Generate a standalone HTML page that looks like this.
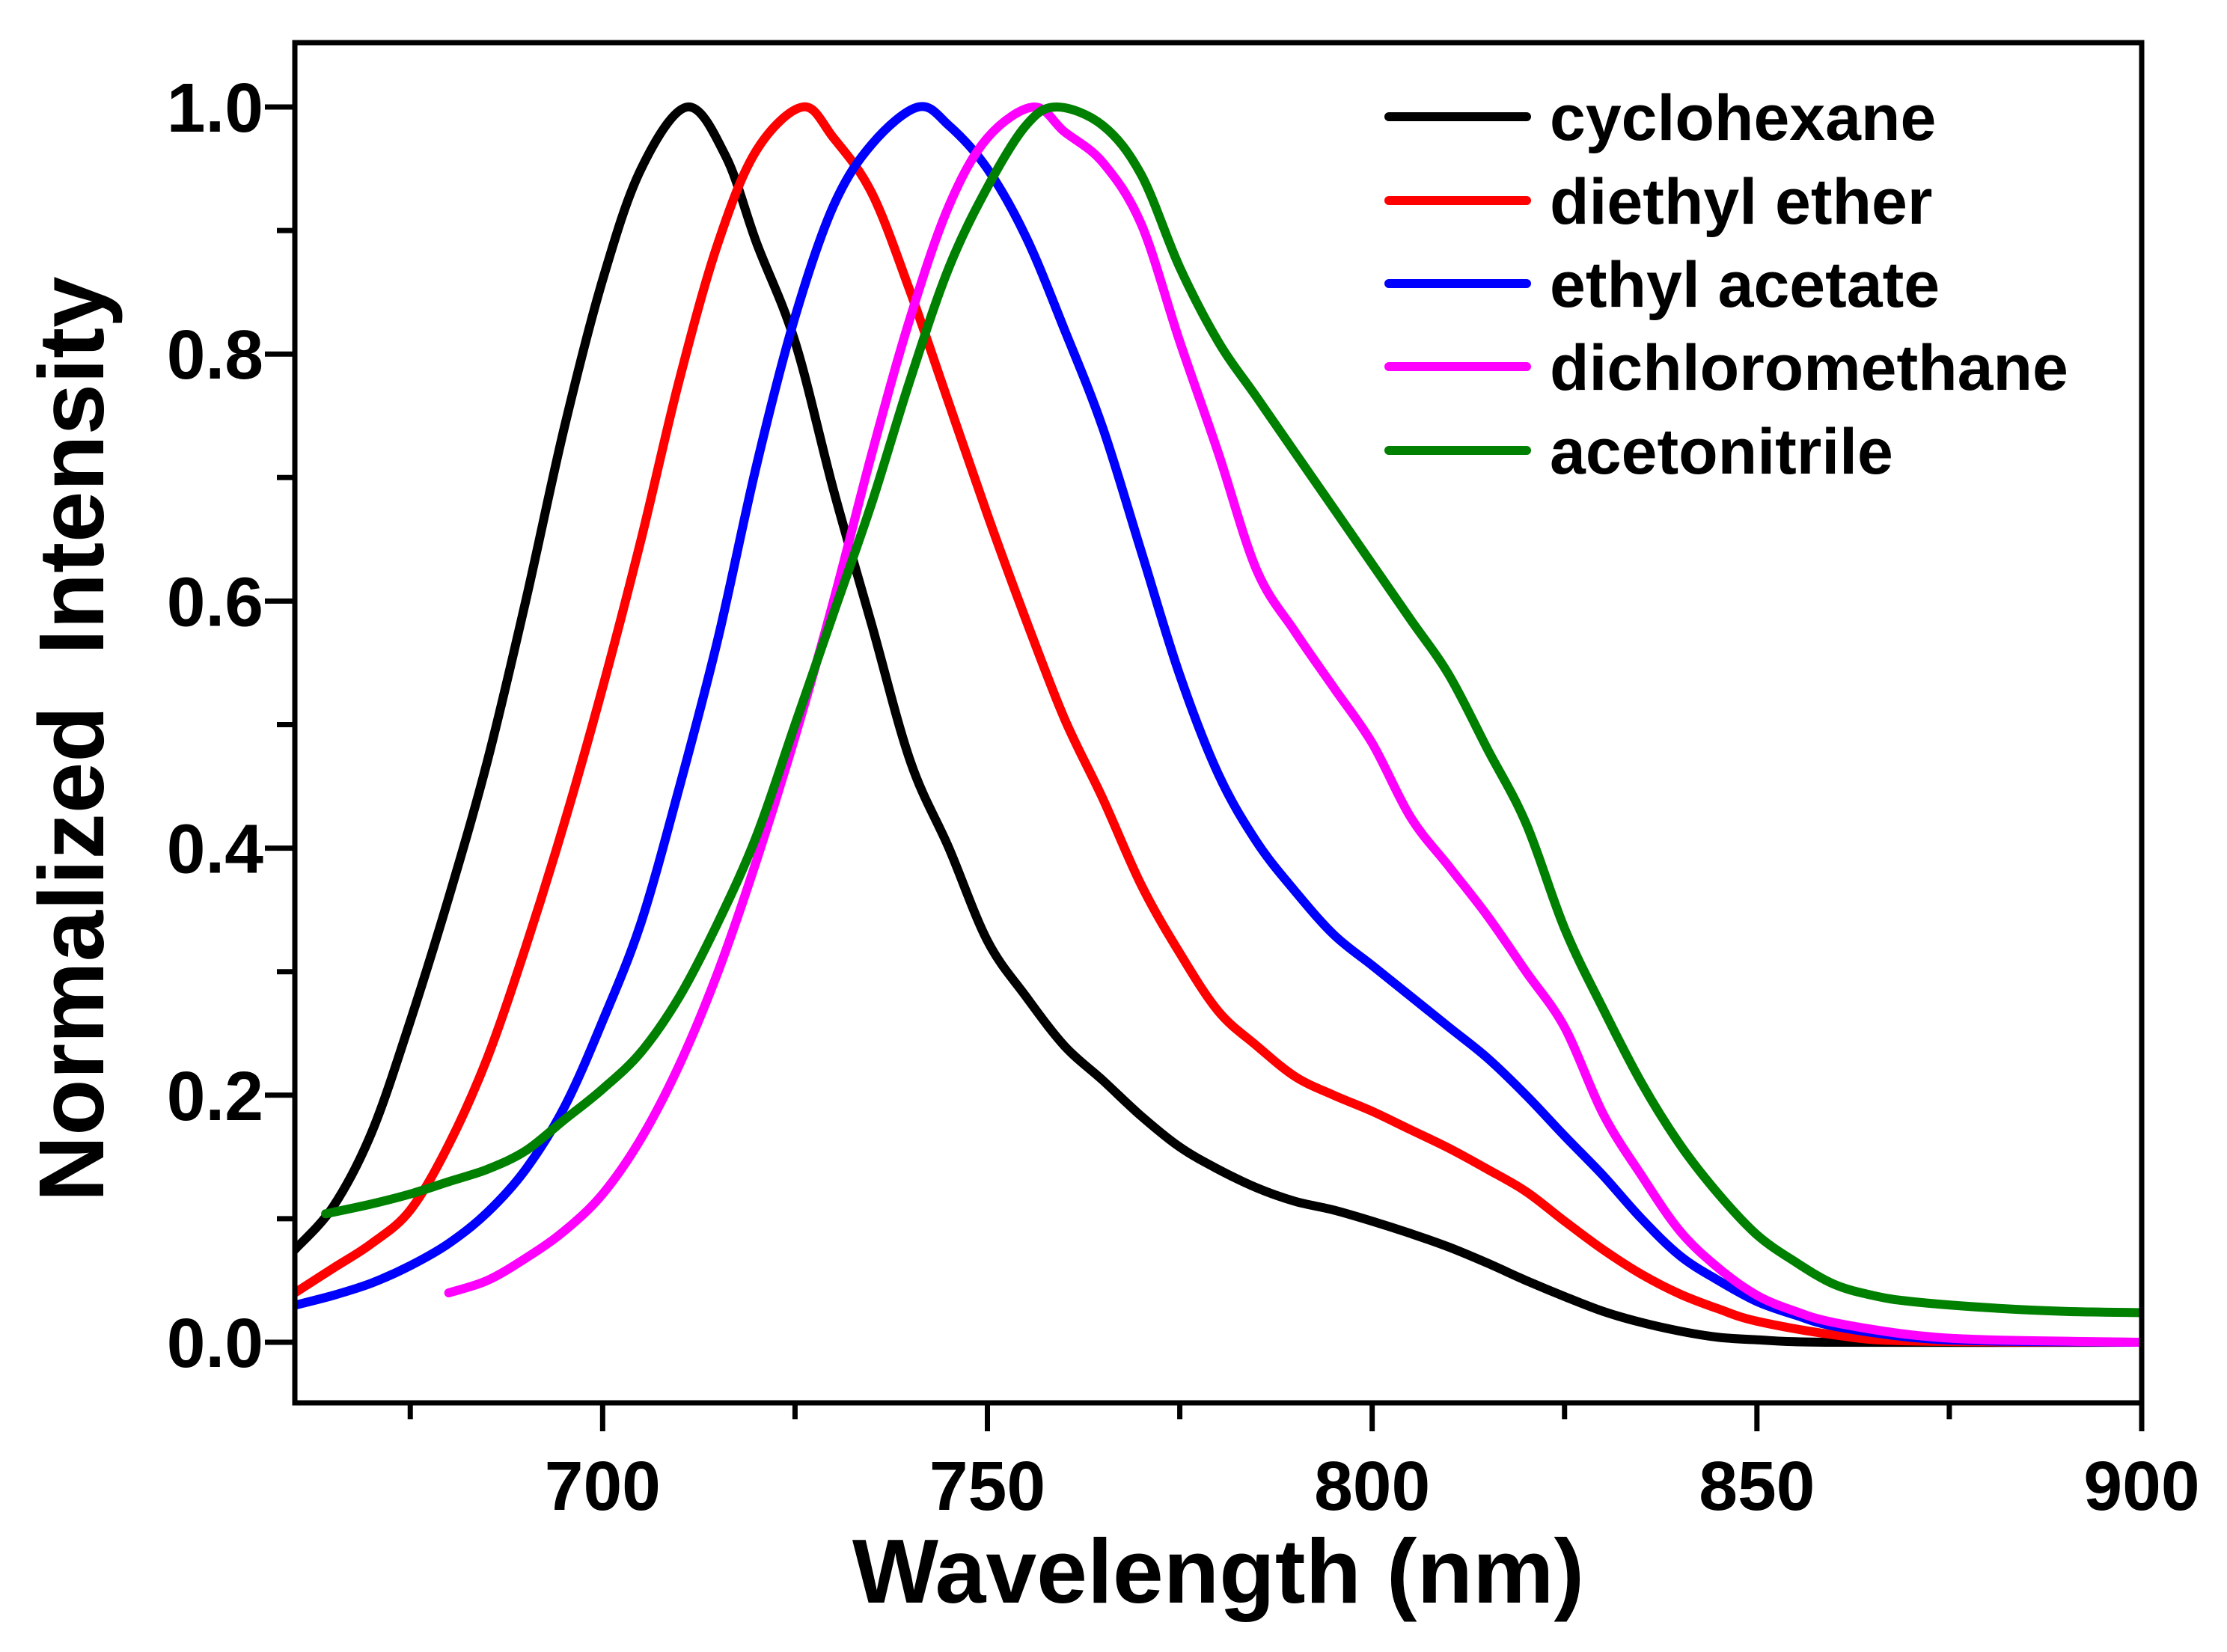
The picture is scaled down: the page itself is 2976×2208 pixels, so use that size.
<!DOCTYPE html>
<html><head><meta charset="utf-8"><style>
html,body{margin:0;padding:0;background:#fff;}
svg{display:block;font-family:"Liberation Sans",Arial,sans-serif;font-weight:bold;}
</style></head><body>
<svg id="chart" width="2976" height="2208" viewBox="0 0 2976 2208" xmlns="http://www.w3.org/2000/svg">
<rect width="2976" height="2208" fill="#fff"/>
<defs><clipPath id="plotclip"><rect x="394" y="57" width="2468" height="1818"/></clipPath></defs>
<g id="series" clip-path="url(#plotclip)"></g>
<rect x="394" y="57" width="2468" height="1818" fill="none" stroke="#000" stroke-width="7"/>
<g id="axes"></g>
<text x="1628" y="2142" font-size="122" text-anchor="middle">Wavelength (nm)</text>
<text transform="translate(138,988) rotate(-90)" font-size="123" text-anchor="middle" xml:space="preserve">Normalized  Intensity</text>
<g id="legend"></g>
</svg>
<script>
const xTickLabels = ["700","750","800","850","900"];
const xTickValues = [700,750,800,850,900];
const yTickLabels = ["0.0","0.2","0.4","0.6","0.8","1.0"];
const yTickValues = [0,0.2,0.4,0.6,0.8,1.0];
const seriesNames = ["cyclohexane","diethyl ether","ethyl acetate","dichloromethane","acetonitrile"];
const seriesColors = ["#000000","#ff0000","#0000ff","#ff00ff","#008000"];
const cyclohexaneX = [660,665,670,675,680,685,690,695,700,705,711,716,720,725,730,735,740,745,750,755,760,765,770,775,780,785,790,795,800,805,810,815,820,825,830,835,840,845,850,860,900];
const cyclohexaneY = [0.075,0.11,0.17,0.26,0.36,0.47,0.60,0.74,0.86,0.95,1.0,0.96,0.89,0.81,0.69,0.58,0.47,0.40,0.325,0.28,0.24,0.212,0.183,0.158,0.14,0.125,0.114,0.107,0.098,0.088,0.077,0.064,0.05,0.037,0.025,0.016,0.009,0.004,0.002,0,0];
const etherX = [660,665,670,675,680,685,690,695,700,705,710,715,720,726,730,735,740,745,750,755,760,765,770,775,780,785,790,795,800,805,810,815,820,825,830,835,840,845,850,860,870,900];
const etherY = [0.04,0.06,0.08,0.107,0.16,0.23,0.32,0.42,0.53,0.65,0.78,0.89,0.965,1.0,0.975,0.93,0.85,0.76,0.67,0.585,0.505,0.44,0.37,0.315,0.268,0.24,0.215,0.2,0.187,0.172,0.157,0.14,0.122,0.098,0.075,0.055,0.039,0.027,0.017,0.006,0.001,0];
const acetateX = [660,665,670,675,680,685,690,695,700,705,710,715,720,725,730,735,741,745,750,755,760,765,770,775,780,785,790,795,800,805,810,815,820,825,830,835,840,845,850,855,860,870,880,900];
const acetateY = [0.03,0.038,0.048,0.062,0.08,0.105,0.14,0.19,0.26,0.34,0.45,0.57,0.71,0.83,0.92,0.97,1.0,0.985,0.95,0.895,0.82,0.74,0.64,0.54,0.46,0.405,0.365,0.33,0.305,0.28,0.255,0.23,0.2,0.167,0.135,0.1,0.07,0.05,0.033,0.022,0.013,0.004,0.001,0];
const dcmX = [680,685,690,695,700,705,710,715,720,725,730,735,740,745,750,756,760,765,770,775,780,785,790,795,800,805,810,815,820,825,830,835,840,845,850,855,860,870,880,900];
const dcmY = [0.04,0.05,0.068,0.09,0.12,0.165,0.225,0.30,0.39,0.49,0.60,0.72,0.83,0.92,0.975,1.0,0.98,0.955,0.905,0.81,0.72,0.625,0.575,0.53,0.485,0.425,0.385,0.345,0.30,0.255,0.185,0.135,0.09,0.06,0.038,0.025,0.016,0.006,0.002,0];
const acnX = [664,670,675,680,685,690,695,700,705,710,715,720,725,730,735,740,745,750,755,759,765,770,775,780,785,790,795,800,805,810,815,820,825,830,835,840,845,850,855,860,865,870,880,890,900];
const acnY = [0.104,0.112,0.12,0.13,0.14,0.155,0.18,0.205,0.235,0.28,0.34,0.41,0.50,0.59,0.68,0.78,0.87,0.935,0.985,1.0,0.985,0.945,0.87,0.81,0.765,0.72,0.675,0.63,0.585,0.54,0.48,0.42,0.335,0.27,0.21,0.16,0.12,0.087,0.065,0.047,0.038,0.033,0.028,0.025,0.024];

const NS="http://www.w3.org/2000/svg";
const X0=394,X1=2862,Y0=1794,Y1=143;
function xs(v){return X0+(v-660)/(900-660)*(X1-X0);}
function ys(v){return Y0+(v-0)/(1-0)*(Y1-Y0);}
function mk(tag,attrs,parent){const e=document.createElementNS(NS,tag);for(const k in attrs)e.setAttribute(k,attrs[k]);parent.appendChild(e);return e;}
function pathFrom(xa,ya){
  const p=xa.map((x,i)=>[xs(x),ys(ya[i])]);
  let d="M"+p[0][0].toFixed(1)+","+p[0][1].toFixed(1);
  for(let i=0;i<p.length-1;i++){
    const p0=p[i-1]||p[i],p1=p[i],p2=p[i+1],p3=p[i+2]||p2;
    const c1=[p1[0]+(p2[0]-p0[0])/6,p1[1]+(p2[1]-p0[1])/6];
    const c2=[p2[0]-(p3[0]-p1[0])/6,p2[1]-(p3[1]-p1[1])/6];
    d+=" C"+c1[0].toFixed(1)+","+c1[1].toFixed(1)+" "+c2[0].toFixed(1)+","+c2[1].toFixed(1)+" "+p2[0].toFixed(1)+","+p2[1].toFixed(1);
  }
  return d;
}
const axes=document.getElementById('axes');
for(let v=675;v<=900;v+=25){
  const major=(v%50===0);
  const t=mk('line',{x1:xs(v),x2:xs(v),y1:1875,y2:1875+(major?38:22),stroke:'#000','stroke-width':7},axes);
  
  
}
xTickValues.forEach((v,i)=>{
  const t=mk('text',{x:xs(v),y:2018,'font-size':93,'text-anchor':'middle'},axes);
  t.textContent=xTickLabels[i];
  
  
});
for(let k=0;k<=10;k++){
  const v=k/10,major=(k%2===0);
  const t=mk('line',{x1:394,x2:394-(major?40:24),y1:ys(v),y2:ys(v),stroke:'#000','stroke-width':7},axes);
  
  
}
yTickValues.forEach((v,i)=>{
  const t=mk('text',{x:352,y:ys(v)+33,'font-size':93,'text-anchor':'end'},axes);
  t.textContent=yTickLabels[i];
  
  
});
const sg=document.getElementById('series');
const allX=[cyclohexaneX,etherX,acetateX,dcmX,acnX];
const allY=[cyclohexaneY,etherY,acetateY,dcmY,acnY];
const slug=["cyclohexane","diethyl-ether","ethyl-acetate","dichloromethane","acetonitrile"];
allX.forEach((xa,i)=>{
  const p=mk('path',{d:pathFrom(xa,allY[i]),fill:'none',stroke:seriesColors[i],'stroke-width':12,'stroke-linejoin':'round','stroke-linecap':'round'},sg);
  
  
});
const lg=document.getElementById('legend');
const rowY=[156,268,379,490,602];
seriesNames.forEach((n,i)=>{
  const l=mk('line',{x1:1856,x2:2040,y1:rowY[i],y2:rowY[i],stroke:seriesColors[i],'stroke-width':12,'stroke-linecap':'round'},lg);
  
  
  const t=mk('text',{x:2071,y:rowY[i]+31,'font-size':86},lg);
  t.textContent=n;
  
  
});
</script>
</body></html>
